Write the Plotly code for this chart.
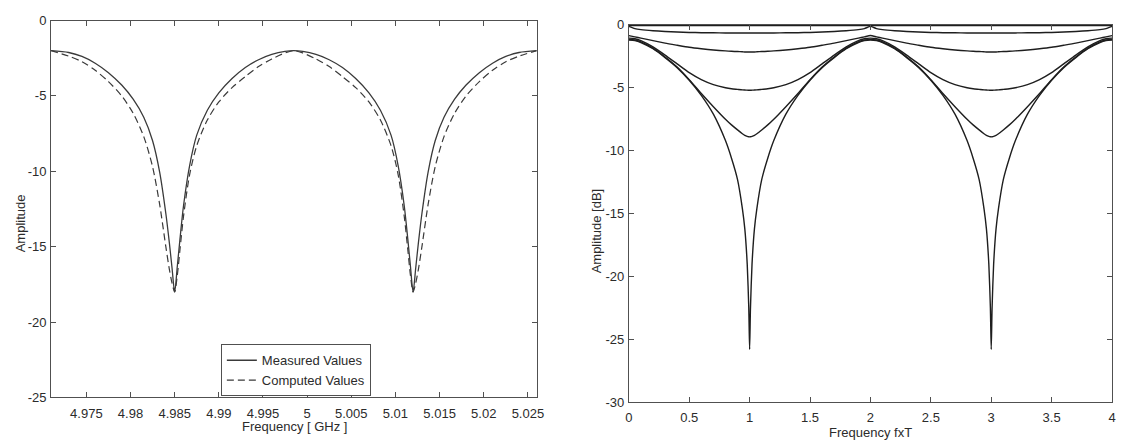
import plotly.graph_objects as go

# ---------------- left panel: measured vs computed response ----------------
freq_ghz = [4.971, 4.973, 4.9745, 4.976, 4.9775, 4.979, 4.9803, 4.9815, 4.9825, 4.9833, 4.984, 4.9844, 4.9847, 4.985,
            4.9853, 4.9856, 4.986, 4.9867, 4.9875, 4.9887, 4.990, 4.9915, 4.993, 4.9945, 4.996, 4.9975, 4.9985,
            4.9995, 5.001, 5.0025, 5.004, 5.0055, 5.007, 5.0083, 5.0095, 5.0103, 5.011, 5.0114, 5.0117, 5.012,
            5.0123, 5.0126, 5.013, 5.0137, 5.0145, 5.0155, 5.0167, 5.018, 5.0195, 5.021, 5.0225, 5.024, 5.026]

measured_amp = [-2.0, -2.12, -2.38, -2.83, -3.46, -4.28, -5.22, -6.42, -7.97, -10.05, -12.8, -14.75, -16.4, -18.0,
                -16.3, -14.5, -12.3, -9.6, -7.6, -5.95, -4.8, -3.85, -3.12, -2.6, -2.25, -2.05, -2.0,
                -2.05, -2.25, -2.6, -3.12, -3.85, -4.8, -5.95, -7.6, -9.6, -12.3, -14.5, -16.3, -18.0,
                -16.4, -14.75, -12.8, -10.05, -7.97, -6.42, -5.22, -4.28, -3.46, -2.83, -2.38, -2.12, -2.0]

computed_amp = [-2.0, -2.36, -2.73, -3.3, -4.05, -5.0, -6.15, -7.7, -9.7, -12.2, -15.0, -16.5, -17.4, -18.0,
                -16.9, -15.2, -13.0, -10.2, -8.3, -6.6, -5.4, -4.45, -3.72, -3.05, -2.55, -2.15, -2.0,
                -2.15, -2.55, -3.05, -3.72, -4.45, -5.4, -6.6, -8.3, -10.2, -13.0, -15.2, -16.9, -18.0,
                -17.4, -16.5, -15.0, -12.2, -9.7, -7.7, -6.15, -5.0, -4.05, -3.3, -2.73, -2.36, -2.0]

freq_tick_vals = [4.975, 4.98, 4.985, 4.99, 4.995, 5.0, 5.005, 5.01, 5.015, 5.02, 5.025]
freq_tick_text = ["4.975", "4.98", "4.985", "4.99", "4.995", "5", "5.005", "5.01", "5.015", "5.02", "5.025"]
amp_tick_vals = [-25, -20, -15, -10, -5, 0]
amp_tick_text = ["-25", "-20", "-15", "-10", "-5", "0"]

# ---------------- right panel: family of responses vs normalised frequency ----------------
fxt = [0.0, 0.05, 0.1, 0.2, 0.3, 0.4, 0.5, 0.6, 0.7, 0.8, 0.85, 0.9, 0.94, 0.96, 0.98, 0.993, 1.0,
       1.007, 1.02, 1.04, 1.06, 1.1, 1.15, 1.2, 1.3, 1.4, 1.5, 1.6, 1.7, 1.8, 1.9, 1.95, 2.0,
       2.05, 2.1, 2.2, 2.3, 2.4, 2.5, 2.6, 2.7, 2.8, 2.85, 2.9, 2.94, 2.96, 2.98, 2.993, 3.0,
       3.007, 3.02, 3.04, 3.06, 3.1, 3.15, 3.2, 3.3, 3.4, 3.5, 3.6, 3.7, 3.8, 3.9, 3.95, 4.0]

flat_fxt = [0.0, 4.0]
flat_db = [-0.05, -0.05]

curve_06_db = [-0.12, -0.3, -0.38, -0.47, -0.53, -0.57, -0.6, -0.62, -0.63, -0.64, -0.65, -0.65, -0.65, -0.65, -0.65, -0.65, -0.65,
               -0.65, -0.65, -0.65, -0.65, -0.65, -0.65, -0.64, -0.63, -0.62, -0.6, -0.57, -0.53, -0.47, -0.38, -0.3, -0.12,
               -0.3, -0.38, -0.47, -0.53, -0.57, -0.6, -0.62, -0.63, -0.64, -0.65, -0.65, -0.65, -0.65, -0.65, -0.65, -0.65,
               -0.65, -0.65, -0.65, -0.65, -0.65, -0.65, -0.64, -0.63, -0.62, -0.6, -0.57, -0.53, -0.47, -0.38, -0.3, -0.12]

curve_22_db = [-0.85, -0.95, -1.05, -1.25, -1.45, -1.62, -1.78, -1.9, -2.0, -2.07, -2.1, -2.12, -2.14, -2.15, -2.15, -2.15, -2.15,
               -2.15, -2.15, -2.15, -2.14, -2.12, -2.1, -2.07, -2.0, -1.9, -1.78, -1.62, -1.45, -1.25, -1.05, -0.95, -0.85,
               -0.95, -1.05, -1.25, -1.45, -1.62, -1.78, -1.9, -2.0, -2.07, -2.1, -2.12, -2.14, -2.15, -2.15, -2.15, -2.15,
               -2.15, -2.15, -2.15, -2.14, -2.12, -2.1, -2.07, -2.0, -1.9, -1.78, -1.62, -1.45, -1.25, -1.05, -0.95, -0.85]

curve_52_db = [-1.05, -1.1, -1.25, -1.75, -2.4, -3.1, -3.8, -4.35, -4.75, -5.0, -5.08, -5.13, -5.17, -5.18, -5.19, -5.2, -5.2,
               -5.2, -5.19, -5.18, -5.17, -5.13, -5.08, -5.0, -4.75, -4.35, -3.8, -3.1, -2.4, -1.75, -1.25, -1.1, -1.05,
               -1.1, -1.25, -1.75, -2.4, -3.1, -3.8, -4.35, -4.75, -5.0, -5.08, -5.13, -5.17, -5.18, -5.19, -5.2, -5.2,
               -5.2, -5.19, -5.18, -5.17, -5.13, -5.08, -5.0, -4.75, -4.35, -3.8, -3.1, -2.4, -1.75, -1.25, -1.1, -1.05]

curve_89_db = [-1.15, -1.2, -1.35, -1.85, -2.55, -3.35, -4.35, -5.45, -6.5, -7.5, -7.95, -8.35, -8.65, -8.78, -8.86, -8.89, -8.9,
               -8.89, -8.86, -8.78, -8.65, -8.35, -7.95, -7.5, -6.5, -5.45, -4.35, -3.35, -2.55, -1.85, -1.35, -1.2, -1.15,
               -1.2, -1.35, -1.85, -2.55, -3.35, -4.35, -5.45, -6.5, -7.5, -7.95, -8.35, -8.65, -8.78, -8.86, -8.89, -8.9,
               -8.89, -8.86, -8.78, -8.65, -8.35, -7.95, -7.5, -6.5, -5.45, -4.35, -3.35, -2.55, -1.85, -1.35, -1.2, -1.15]

curve_258_db = [-1.2, -1.25, -1.4, -1.9, -2.6, -3.4, -4.4, -5.6, -7.1, -9.2, -10.6, -12.3, -14.6, -16.2, -19.0, -22.5, -25.8,
                -22.5, -19.0, -16.2, -14.6, -12.3, -10.6, -9.2, -7.1, -5.6, -4.4, -3.4, -2.6, -1.9, -1.4, -1.25, -1.2,
                -1.25, -1.4, -1.9, -2.6, -3.4, -4.4, -5.6, -7.1, -9.2, -10.6, -12.3, -14.6, -16.2, -19.0, -22.5, -25.8,
                -22.5, -19.0, -16.2, -14.6, -12.3, -10.6, -9.2, -7.1, -5.6, -4.4, -3.4, -2.6, -1.9, -1.4, -1.25, -1.2]

fxt_tick_vals = [0, 0.5, 1, 1.5, 2, 2.5, 3, 3.5, 4]
fxt_tick_text = ["0", "0.5", "1", "1.5", "2", "2.5", "3", "3.5", "4"]
db_tick_vals = [-30, -25, -20, -15, -10, -5, 0]
db_tick_text = ["-30", "-25", "-20", "-15", "-10", "-5", "0"]

# ---------------- figure ----------------
W, H = 1123, 447
FONT = "Liberation Sans, Arial, Helvetica, sans-serif"
AXIS_GREY = "#505050"
TEXT_GREY = "#2b2b2b"


def px_x(p):
    return p / W


def px_y(p):
    return 1 - p / H


fig = go.Figure()

fig.add_trace(go.Scatter(x=freq_ghz, y=measured_amp, mode="lines", name="Measured Values",
                         line=dict(color="#3a3a3a", width=1.3, shape="spline", smoothing=0.8),
                         xaxis="x", yaxis="y"))
fig.add_trace(go.Scatter(x=freq_ghz, y=computed_amp, mode="lines", name="Computed Values",
                         line=dict(color="#3a3a3a", width=1.2, dash="7px,4px", shape="spline", smoothing=0.8),
                         xaxis="x", yaxis="y"))

right_curves = [(flat_fxt, flat_db), (fxt, curve_06_db), (fxt, curve_22_db), (fxt, curve_52_db),
                (fxt, curve_89_db), (fxt, curve_258_db)]
for xs, ys in right_curves:
    fig.add_trace(go.Scatter(x=xs, y=ys, mode="lines", showlegend=False,
                             line=dict(color="#1e1e1e", width=1.4, shape="spline", smoothing=0.6),
                             xaxis="x2", yaxis="y2"))

axis_common = dict(showline=True, linecolor=AXIS_GREY, linewidth=1, mirror="allticks",
                   ticks="inside", ticklen=5, tickcolor=AXIS_GREY, tickwidth=1,
                   showgrid=False, zeroline=False,
                   tickfont=dict(family=FONT, size=13, color=TEXT_GREY))

title_font = dict(family=FONT, size=13, color=TEXT_GREY)


def axis_title(text, x, y, angle=0):
    return dict(text=text, x=px_x(x), y=px_y(y), xref="paper", yref="paper",
                xanchor="center", yanchor="middle", textangle=angle, borderpad=0,
                showarrow=False, font=title_font)


fig.update_layout(
    width=W, height=H,
    margin=dict(l=0, r=0, t=0, b=0),
    paper_bgcolor="white", plot_bgcolor="white",
    xaxis=dict(domain=[px_x(47.5), px_x(538)], range=[4.971, 5.026], anchor="y",
               tickmode="array", tickvals=freq_tick_vals, ticktext=freq_tick_text,
               ticklabelstandoff=4, **axis_common),
    yaxis=dict(domain=[px_y(404), px_y(14)], range=[-25, 0], anchor="x",
               tickmode="array", tickvals=amp_tick_vals, ticktext=amp_tick_text,
               ticklabelstandoff=1, **axis_common),
    xaxis2=dict(domain=[px_x(631), px_x(1119)], range=[0, 4], anchor="y2",
                tickmode="array", tickvals=fxt_tick_vals, ticktext=fxt_tick_text,
                ticklabelstandoff=3, **axis_common),
    yaxis2=dict(domain=[px_y(409), px_y(18.5)], range=[-30, 0], anchor="x2",
                tickmode="array", tickvals=db_tick_vals, ticktext=db_tick_text,
                ticklabelstandoff=1, **axis_common),
    showlegend=True,
    legend=dict(x=px_x(219), y=px_y(349), xanchor="left", yanchor="top",
                bgcolor="white", bordercolor=AXIS_GREY, borderwidth=1,
                font=dict(family=FONT, size=13, color=TEXT_GREY),
                tracegroupgap=0, itemwidth=30),
    annotations=[
        axis_title("Amplitude", 17, 224, -90),
        axis_title("Frequency [ GHz ]", 293, 434),
        axis_title("Amplitude [dB]", 598, 232, -90),
        axis_title("Frequency fxT", 875, 440),
    ],
)

fig.write_html("out.html", config={"displayModeBar": False})
